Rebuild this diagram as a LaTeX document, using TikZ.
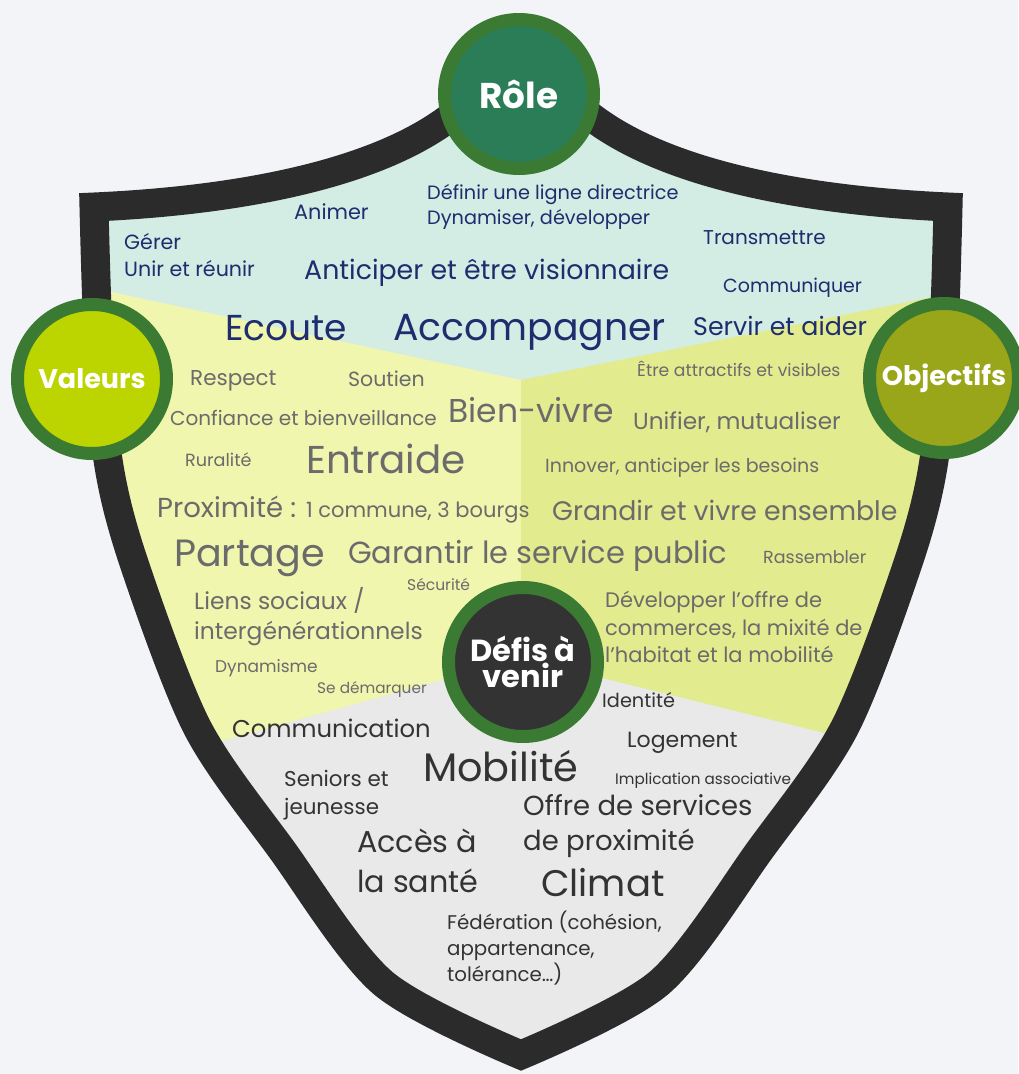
\documentclass[tikz,border=0pt]{standalone}
\usepackage{fontspec}
\setmainfont{Poppins}
\definecolor{bg}{HTML}{F3F4F8}
\definecolor{navy}{HTML}{1F2D6E}
\definecolor{greytxt}{HTML}{6B6B6B}
\definecolor{darktxt}{HTML}{333333}
\definecolor{mint}{HTML}{D3ECE4}
\definecolor{yelleft}{HTML}{F0F6AE}
\definecolor{yelright}{HTML}{E2EB8E}
\definecolor{greyfill}{HTML}{E9E9E9}
\definecolor{shieldcol}{HTML}{2B2B2B}
\definecolor{ringgreen}{HTML}{3A7A32}
\definecolor{rolefill}{HTML}{2B7D58}
\definecolor{valfill}{HTML}{BCD400}
\definecolor{objfill}{HTML}{9AA619}
\definecolor{defifill}{HTML}{333333}
\newcommand{\fs}[2]{\fontsize{#1}{#2}\selectfont}
\newcommand{\shieldpath}{(94,207) .. controls (250,200) and (400,170) .. (470,100) -- (521,70) -- (572,100)
  .. controls (642,170) and (792,200) .. (948,207)
  -- plot[smooth] coordinates {(948,207) (944,330) (934,460) (909,560) (845,727) (760,850) (659,983) (521,1055)}
  -- plot[smooth] coordinates {(521,1055) (383,983) (282,850) (197,727) (133,560) (108,460) (98,330) (94,207)} -- cycle}
\tikzset{
  role/.style={text=navy, anchor=base west, inner sep=0pt, align=left},
  valeur/.style={text=greytxt, anchor=base west, inner sep=0pt, align=left},
  defi/.style={text=darktxt, anchor=base west, inner sep=0pt, align=left},
  block/.style={anchor=west},
  badge/.style={circle, draw=ringgreen, line width=13pt, minimum size=149pt, inner sep=0pt,
    text=white, align=center, font=\bfseries\fs{27}{27}}
}
\begin{document}
\begin{tikzpicture}[x=1pt,y=-1pt]
  \useasboundingbox (0,0) rectangle (1018,1074);
  \fill[bg] (0,0) rectangle (1018,1074);
  \begin{scope}
    \clip \shieldpath;
    \fill[mint] (0,0) rectangle (1042,1100);
    \fill[yelleft] (0,268) -- (521,380) -- (521,658) -- (0,803) -- cycle;
    \fill[yelright] (1042,275) -- (521,380) -- (521,658) -- (1042,787) -- cycle;
    \fill[greyfill] (0,803) -- (521,658) -- (1042,787) -- (1042,1100) -- (0,1100) -- cycle;
  \end{scope}
  \draw[shieldcol, line width=29pt, line join=miter] \shieldpath;

  \node[role, block, font=\fs{19.3}{25}] (r1) at (427,207) {Définir une ligne directrice\\Dynamiser, développer};
  \node[role, font=\fs{20.8}{24}] (r2) at (294,219) {Animer};
  \node[role, block, font=\fs{20.6}{27}] (r3) at (124,255) {Gérer\\Unir et réunir};
  \node[role, font=\fs{26.8}{30}] (r4) at (304,279) {Anticiper et être visionnaire};
  \node[role, font=\fs{20}{24}] (r5) at (703,244) {Transmettre};
  \node[role, font=\fs{19}{24}] (r6) at (723,292) {Communiquer};
  \node[role, font=\fs{36}{40}] (r7) at (225,340) {Ecoute};
  \node[role, font=\fs{37.8}{44}] (r8) at (393,340) {Accompagner};
  \node[role, font=\fs{25.3}{30}] (r9) at (693,335) {Servir et aider};

  \node[valeur, font=\fs{21.5}{24}] (v1) at (190,385) {Respect};
  \node[valeur, font=\fs{20.5}{24}] (v2) at (348,386) {Soutien};
  \node[valeur, font=\fs{17.2}{20}] (v3) at (637,376) {Être attractifs et visibles};
  \node[valeur, font=\fs{20}{24}] (v4) at (170,425) {Confiance et bienveillance};
  \node[valeur, font=\fs{33}{36}] (v5) at (448,422) {Bien-vivre};
  \node[valeur, font=\fs{23.2}{28}] (v6) at (633,429) {Unifier, mutualiser};
  \node[valeur, font=\fs{17.6}{20}] (v7) at (185,466) {Ruralité};
  \node[valeur, font=\fs{38.8}{44}] (v8) at (306,473) {Entraide};
  \node[valeur, font=\fs{19}{22}] (v9) at (545,472) {Innover, anticiper les besoins};
  \node[valeur, font=\fs{27.5}{30}] (v10) at (157,517) {Proximité : \fs{21}{24}1 commune, 3 bourgs};
  \node[valeur, font=\fs{26.8}{32}] (v11) at (552,520) {Grandir et vivre ensemble};
  \node[valeur, font=\fs{38}{42}] (v12) at (174,566) {Partage};
  \node[valeur, font=\fs{30.5}{32}] (v13) at (348,563) {Garantir le service public};
  \node[valeur, font=\fs{17.5}{20}] (v14) at (763,563) {Rassembler};
  \node[valeur, font=\fs{15.5}{18}] (v15) at (407,590) {Sécurité};
  \node[valeur, block, font=\fs{23.4}{30}] (v16) at (194,617) {Liens sociaux /\\intergénérationnels};
  \node[valeur, font=\fs{17}{20}] (v17) at (215,672) {Dynamisme};
  \node[valeur, font=\fs{15.3}{19}] (v18) at (317,693) {Se démarquer};
  \node[valeur, block, font=\fs{21}{27.5}] (v19) at (605,627) {Développer l’offre de\\commerces, la mixité de\\l’habitat et la mobilité};

  \node[defi, font=\fs{19.3}{22}] (d1) at (602,707) {Identité};
  \node[defi, font=\fs{24.3}{30}] (d2) at (232,737) {Communication};
  \node[defi, font=\fs{22}{26}] (d3) at (627,747) {Logement};
  \node[defi, font=\fs{39.8}{42}] (d4) at (423,781) {Mobilité};
  \node[defi, block, font=\fs{21.4}{28}] (d5) at (284,795) {Seniors et\\jeunesse};
  \node[defi, font=\fs{15.2}{19}] (d6) at (615,784) {Implication associative};
  \node[defi, block, font=\fs{27.5}{35}] (d7) at (523,826) {Offre de services\\de proximité};
  \node[defi, block, font=\fs{30.2}{40}] (d8) at (357,861) {Accès à\\la santé};
  \node[defi, font=\fs{37}{42}] (d9) at (541,896) {Climat};
  \node[defi, block, font=\fs{19.8}{26}] (d10) at (447,948) {Fédération (cohésion,\\appartenance,\\tolérance…)};

  \node[badge, fill=rolefill, font=\bfseries\fs{35.8}{34}] (role) at (519,94) {Rôle};
  \node[badge, fill=valfill] (valeurs) at (92,379) {Valeurs};
  \node[badge, fill=objfill] (objectifs) at (944,378) {Objectifs};
  \node[badge, fill=defifill, font=\bfseries\fs{30.5}{26}] (defis) at (523,662) {Défis à\\venir};
\end{tikzpicture}
\end{document}
